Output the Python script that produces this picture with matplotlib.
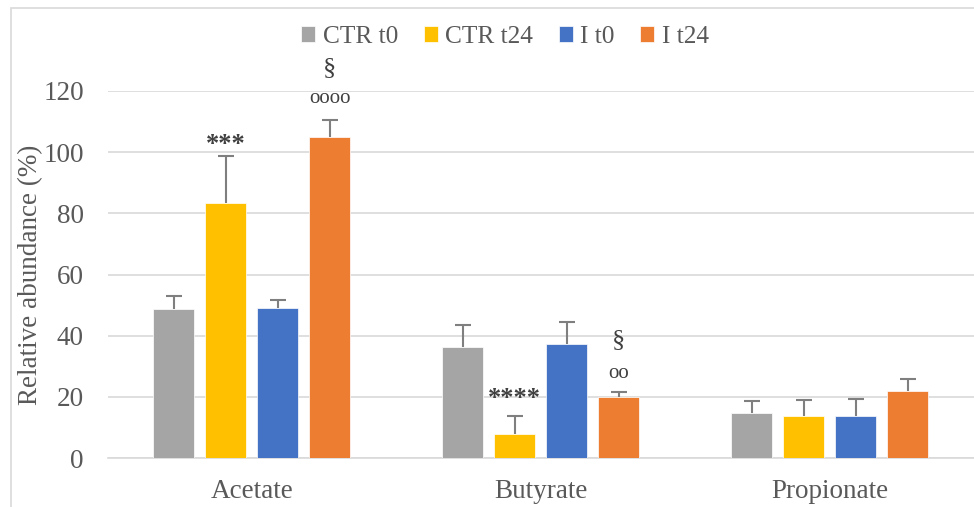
import numpy as np
import matplotlib
matplotlib.use("Agg")
from matplotlib import pyplot as plt
from matplotlib.patches import Rectangle

plt.rcParams['font.family'] = ['Liberation Serif', 'DejaVu Serif']

categories = ['Acetate', 'Butyrate', 'Propionate']
groups = ['CTR t0', 'CTR t24', 'I t0', 'I t24']
colors = ['#A5A5A5', '#FFC000', '#4472C4', '#ED7D31']

# mean values per group, one entry per category
means = [
    [48.7, 36.4, 14.6],   # CTR t0
    [83.5, 7.8, 13.7],    # CTR t24
    [49.0, 37.3, 13.7],   # I t0
    [105.1, 20.0, 21.8],  # I t24
]
# upper error (sd)
errs = [
    [4.3, 7.1, 3.9],
    [15.1, 5.8, 5.3],
    [2.7, 7.1, 5.7],
    [5.3, 1.7, 3.9],
]
# significance marks above bars: (group, category, text, y)
marks = [
    (1, 0, '***', 102.5),
    (3, 0, 'oooo', 117.5),
    (3, 0, '\u00a7', 127.5),
    (1, 1, '****', 19.5),
    (3, 1, 'oo', 27.5),
    (3, 1, '\u00a7', 38.5),
]

fig = plt.figure(figsize=(9.74, 5.07), dpi=100)
ax = fig.add_axes([107.5 / 974, 1 - 458 / 507, 1 - 107.5 / 974, (458 - 91) / 507])

x = np.arange(len(categories))
step = 0.18
width = 0.142
for i, g in enumerate(groups):
    pos = x + (i - 1.5) * step
    ax.bar(pos, means[i], width, color=colors[i], label=g, zorder=3,
           edgecolor='white', linewidth=0.5)
    eb = ax.errorbar(pos, means[i], yerr=[np.zeros(3), errs[i]], fmt='none',
                     ecolor='#7F7F7F', elinewidth=1.5, capsize=6, capthick=1.5, zorder=4)
    # only the upper whisker gets a cap
    eb[1][0].set_visible(False)

for gi, ci, txt, yy in marks:
    xx = x[ci] + (gi - 1.5) * step
    weight = 'normal'
    if txt.startswith('o'):
        size = 15
    elif txt.startswith('*'):
        size = 19
        weight = 'bold'
    else:
        size = 19
    ax.text(xx, yy, txt, ha='center', va='center', fontsize=size,
            fontweight=weight, color='#404040', clip_on=False)

ax.set_xlim(-0.5, 2.5)
ax.set_ylim(0, 120)
ax.set_yticks(np.arange(0, 121, 20))
ax.set_xticks(x)
ax.set_xticklabels(categories)
ax.yaxis.grid(True, color='#D9D9D9', linewidth=1.2, zorder=0)
ax.set_axisbelow(True)
for s in ['top', 'right', 'left']:
    ax.spines[s].set_visible(False)
ax.spines['bottom'].set_color('#D9D9D9')
ax.spines['bottom'].set_linewidth(1.2)
ax.tick_params(axis='both', length=0, labelsize=19.5, labelcolor='#595959')
ax.tick_params(axis='y', pad=17)
ax.tick_params(axis='x', pad=15)
ax.set_ylabel('Relative abundance (%)', fontsize=19.5, color='#595959', labelpad=0)

leg = fig.legend(loc='center', bbox_to_anchor=(505 / 974, 1 - 37 / 507), ncol=4,
                 frameon=False, fontsize=18.3, handlelength=0.55, handleheight=0.55,
                 handletextpad=0.3, columnspacing=1.0, labelcolor='#595959')

# chart frame
fig.patches.append(Rectangle((11 / 974, -0.1), 1.2, 1.1 - 8 / 507, transform=fig.transFigure,
                             fill=False, edgecolor='#D9D9D9', linewidth=1.2))

fig.savefig('out.png', dpi=100)
